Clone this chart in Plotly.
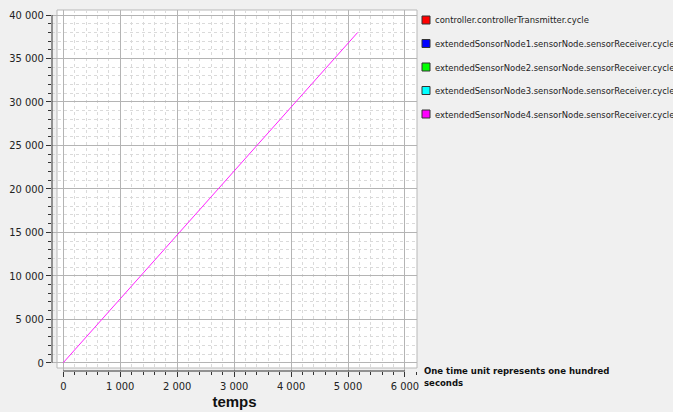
import plotly.graph_objects as go

series_names = [
    "controller.controllerTransmitter.cycle",
    "extendedSonsorNode1.sensorNode.sensorReceiver.cycle",
    "extendedSensorNode2.sensorNode.sensorReceiver.cycle",
    "extendedSensorNode3.sensorNode.sensorReceiver.cycle",
    "extendedSensorNode4.sensorNode.sensorReceiver.cycle",
]
series_colors = ["#ff0000", "#0000ff", "#00ff00", "#00ffff", "#ff00ff"]
temps = [0, 5170]
cycle_values = [0, 38000]
x_ticks = [0, 1000, 2000, 3000, 4000, 5000, 6000]
y_ticks = [0, 5000, 10000, 15000, 20000, 25000, 30000, 35000, 40000]
note_text = "One time unit represents one hundred<br>seconds"

# pixel geometry helpers
L, R, T, B = 52, 417, 10, 371
W, H = 673, 412
def px(x):
    return (x - L) / (R - L)
def py(y):
    return (B - y) / (B - T)

fig = go.Figure()
# only the last series is visible in the chart (it covers the others)
fig.add_trace(go.Scatter(x=temps, y=cycle_values, mode="lines", name=series_names[-1],
                         line=dict(color="#ff22ff", width=1), showlegend=False))

font = "DejaVu Sans Condensed"
shapes = []
annotations = []
# white plotting area
shapes.append(dict(type="rect", xref="paper", yref="paper", x0=px(57), x1=1.0,
                   y0=py(368), y1=1.0, fillcolor="white",
                   line=dict(color="#b8b8b8", width=1), layer="below"))
# axis lines spanning the data range
shapes.append(dict(type="line", xref="paper", yref="y", x0=0, x1=0,
                   y0=y_ticks[0], y1=y_ticks[-1], line=dict(color="#333333", width=1)))
shapes.append(dict(type="line", xref="x", yref="paper", x0=x_ticks[0], x1=x_ticks[-1],
                   y0=0, y1=0, line=dict(color="#333333", width=1)))
# legend
rows = [20, 43.5, 67, 90.5, 114]
for name, color, yc in zip(series_names, series_colors, rows):
    shapes.append(dict(type="rect", xref="paper", yref="paper",
                       x0=px(422), x1=px(430), y0=py(yc + 4), y1=py(yc - 4),
                       fillcolor=color, line=dict(color="#333333", width=1)))
    annotations.append(dict(text=name, xref="paper", yref="paper", x=px(433), y=py(yc),
                            xanchor="left", yanchor="middle", showarrow=False,
                            font=dict(family=font, size=9.4, color="#222222")))
annotations.append(dict(text="<b>" + note_text + "</b>", xref="paper", yref="paper",
                        x=px(422), y=py(376), xanchor="left", yanchor="middle",
                        align="left", showarrow=False,
                        font=dict(family=font, size=9.5, color="#111111")))

fig.update_layout(
    width=W, height=H,
    margin=dict(l=L, r=W - R, t=T, b=H - B, pad=0, autoexpand=False),
    paper_bgcolor="#f0f0f0", plot_bgcolor="#f0f0f0",
    separators=". ",
    showlegend=False,
    shapes=shapes, annotations=annotations,
    font=dict(family=font, size=10, color="#222222"),
    xaxis=dict(range=[-198, 6211], tickvals=x_ticks, tickformat=",d",
               automargin=False,
               showline=False, zeroline=False,
               showgrid=True, gridcolor="#b4b4b4", gridwidth=1,
               ticks="outside", ticklen=5, tickcolor="#333333",
               minor=dict(dtick=200, tick0=0, ticks="outside", ticklen=3,
                          tickcolor="#333333", showgrid=True,
                          gridcolor="#dadada", griddash="dot"),
               tickfont=dict(family=font, size=11, color="#222222"),
               title=dict(text="<b>temps</b>", standoff=0,
                          font=dict(family="Liberation Sans", size=15, color="#111111"))),
    yaxis=dict(range=[-955, 40578], tickvals=y_ticks, tickformat=",d",
               automargin=False,
               showline=False, zeroline=False,
               showgrid=True, gridcolor="#b4b4b4", gridwidth=1,
               ticks="outside", ticklen=5, tickcolor="#333333",
               minor=dict(dtick=1000, tick0=0, ticks="outside", ticklen=3,
                          tickcolor="#333333", showgrid=True,
                          gridcolor="#dadada", griddash="dot"),
               tickfont=dict(family=font, size=11, color="#222222")),
)

fig.write_html("out.html", config={"displayModeBar": False},
               post_script="document.body.style.margin='0';document.body.style.overflow='hidden';")
